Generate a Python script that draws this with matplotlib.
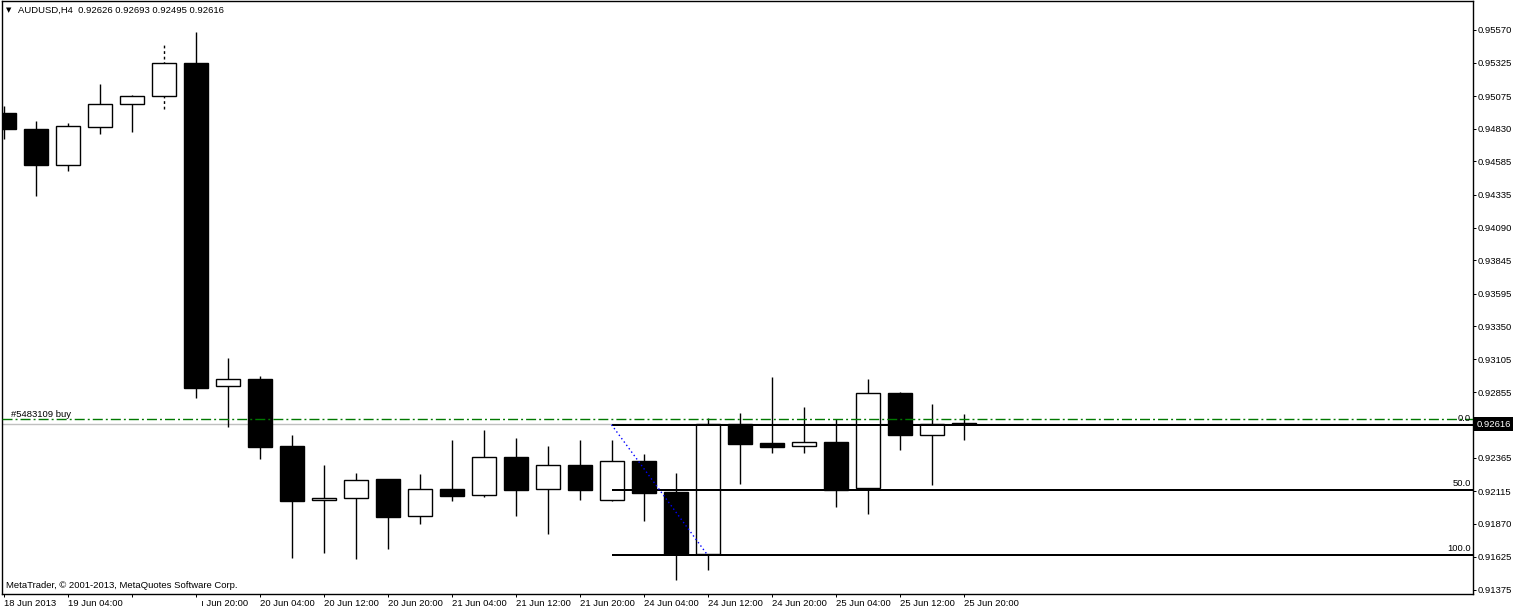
import matplotlib
matplotlib.use("Agg")
import matplotlib.pyplot as plt
import matplotlib.transforms as mtransforms

# ---------------- data ----------------
opens  = [0.94948, 0.94828, 0.94559, 0.94843, 0.95016, 0.95076, 0.95323, 0.92903,
          0.92956, 0.92454, 0.92046, 0.92064, 0.92207, 0.91929, 0.92132, 0.92087,
          0.92371, 0.92132, 0.92311, 0.92049, 0.92341, 0.92109, 0.91645, 0.92619,
          0.92476, 0.92454, 0.92484, 0.92139, 0.92851, 0.92536, 0.92626]
highs  = [0.95001, 0.94888, 0.94873, 0.95165, 0.95083, 0.95473, 0.95555, 0.93113,
          0.92978, 0.92536, 0.92311, 0.92252, 0.92210, 0.92244, 0.92499, 0.92574,
          0.92514, 0.92454, 0.92499, 0.92499, 0.92394, 0.92252, 0.92664, 0.92701,
          0.92971, 0.92746, 0.92656, 0.92956, 0.92855, 0.92768, 0.92693]
lows   = [0.94754, 0.94327, 0.94514, 0.94791, 0.94806, 0.94978, 0.92813, 0.92596,
          0.92356, 0.91615, 0.91652, 0.91607, 0.91682, 0.91869, 0.92042, 0.92072,
          0.91929, 0.91795, 0.92049, 0.92045, 0.91892, 0.91450, 0.91525, 0.92169,
          0.92401, 0.92401, 0.91997, 0.91944, 0.92424, 0.92162, 0.92495]
closes = [0.94828, 0.94559, 0.94851, 0.95016, 0.95076, 0.95323, 0.92888, 0.92956,
          0.92446, 0.92042, 0.92061, 0.92199, 0.91922, 0.92132, 0.92079, 0.92371,
          0.92124, 0.92311, 0.92124, 0.92341, 0.92102, 0.91645, 0.92619, 0.92469,
          0.92446, 0.92484, 0.92124, 0.92851, 0.92536, 0.92619, 0.92616]

xtick_bars   = [0, 2, 4, 6, 8, 10, 12, 14, 16, 18, 20, 22, 24, 26, 28, 30]
xtick_labels = ["18 Jun 2013", "19 Jun 04:00", "", "  \u0131 Jun 20:00", "20 Jun 04:00",
                "20 Jun 12:00", "20 Jun 20:00", "21 Jun 04:00", "21 Jun 12:00",
                "21 Jun 20:00", "24 Jun 04:00", "24 Jun 12:00", "24 Jun 20:00",
                "25 Jun 04:00", "25 Jun 12:00", "25 Jun 20:00"]
ytick_values = [0.95570, 0.95325, 0.95075, 0.94830, 0.94585, 0.94335, 0.94090,
                0.93845, 0.93595, 0.93350, 0.93105, 0.92855, 0.92365, 0.92115,
                0.91870, 0.91625, 0.91375]

fib_levels = [0.92613, 0.92125, 0.91637]
fib_names  = ["0.0", "50.0", "100.0"]
fib_start_bar = 19
trend_bars = [19, 22]
order_price = 0.92654
order_label = "#5483109 buy"
bid_price = 0.92616
dashed_wick_bar = 5
header = "AUDUSD,H4  0.92626 0.92693 0.92495 0.92616"
copyright_text = "MetaTrader, \u00a9 2001-2013, MetaQuotes Software Corp."

# ---------------- figure ----------------
W, H = 1516, 612
FONT = ["Liberation Sans", "DejaVu Sans"]
plt.rcParams["font.family"] = FONT
FS = 6.8

fig = plt.figure(figsize=(W / 100, H / 100), dpi=100)
ax = fig.add_axes([2 / W, 1 - 594 / H, (1473 - 2) / W, (594 - 1) / H])
ax.set_xlim(-0.047, 45.92)
ax.set_ylim(0.91345, 0.95787)

px = 0.72  # one pixel in points

# candles
for i, (o, h, l, c) in enumerate(zip(opens, highs, lows, closes)):
    ls = (0, (2, 2)) if i == dashed_wick_bar else "-"
    ax.vlines(i, l, h, color="black", lw=1.0, linestyles=ls, zorder=1)
    bull = c >= o
    ax.bar(i, abs(c - o), bottom=min(o, c), width=0.75,
           color="white" if bull else "black", edgecolor="black",
           linewidth=1.0, zorder=2)

# bid line (grey)
ax.axhline(bid_price, color="#c0c0c0", lw=1.0, zorder=0.5)
# order line (green dash-dot)
ax.axhline(order_price, color="#007800", lw=1.0,
           linestyle=(0, (7.2, 2.2, 1.4, 2.2)), zorder=3)
ax.text(9 / 1471, order_price, order_label, transform=mtransforms.blended_transform_factory(ax.transAxes, ax.transData),
        fontsize=FS, va="bottom", ha="left", color="black")

# fibonacci
xmax = ax.get_xlim()[1]
blend = mtransforms.blended_transform_factory(ax.transAxes, ax.transData)
for lvl, name in zip(fib_levels, fib_names):
    ax.plot([fib_start_bar, xmax], [lvl, lvl], color="black", lw=2 * px, zorder=4,
            solid_capstyle="butt")
    ax.text(0.9986, lvl + 0.00012, name, transform=blend, ha="right", va="bottom",
            fontsize=FS, color="black", zorder=5)
ax.plot(trend_bars, [fib_levels[0], fib_levels[-1]], color="#0000ff", lw=1.0,
        linestyle=(0, (1, 2)), zorder=5)

# axes styling
for s in ax.spines.values():
    s.set_color("black")
    s.set_linewidth(1.0)
ax.yaxis.tick_right()
ax.set_yticks(ytick_values)
ax.set_yticklabels([f"{v:.5f}" for v in ytick_values])
ax.tick_params(axis="y", direction="out", length=3 * px, width=px, pad=2 * px,
               labelsize=FS, colors="black")
ax.set_xticks(xtick_bars)
ax.set_xticklabels(xtick_labels)
for lab in ax.get_xticklabels():
    lab.set_horizontalalignment("left")
ax.tick_params(axis="x", direction="out", length=3 * px, width=px, pad=2 * px,
               labelsize=FS, colors="black")

# current price box
ax.text(1.0025, bid_price, f"{bid_price:.5f}", transform=blend, ha="left", va="center",
        fontsize=FS, color="white", clip_on=False,
        bbox=dict(boxstyle="square,pad=0.25", fc="black", ec="none"))

# header / footer
fig.text(6 / W, 1 - 10 / H, "\u25bc", fontsize=5, family="DejaVu Sans", va="center", ha="left")
fig.text(18 / W, 1 - 10 / H, header, fontsize=FS, va="center", ha="left")
fig.text(6 / W, 1 - 586 / H, copyright_text, fontsize=FS, va="center", ha="left")

fig.savefig("out.png", dpi=100)
